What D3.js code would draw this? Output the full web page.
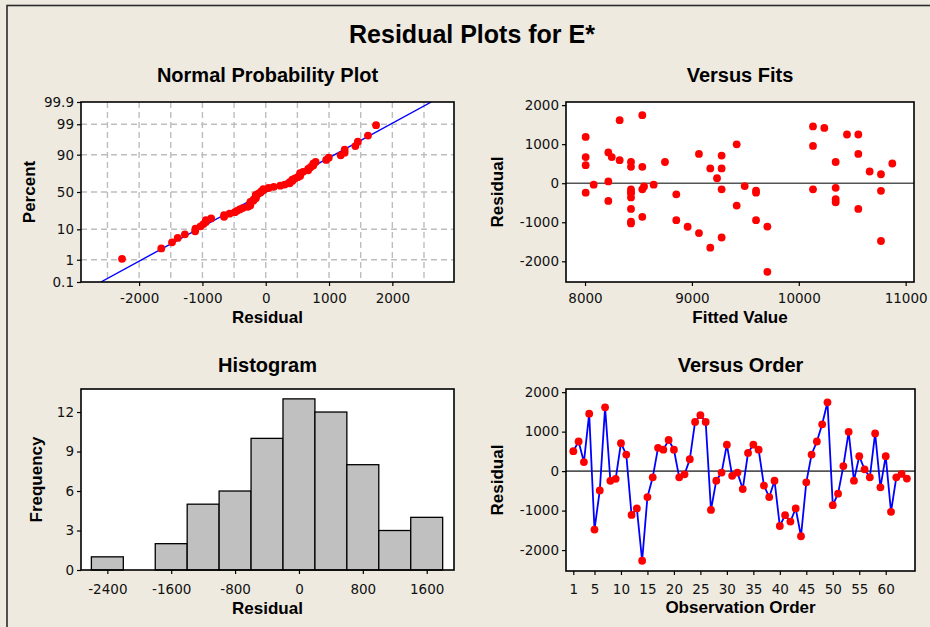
<!DOCTYPE html>
<html>
<head>
<meta charset="utf-8">
<script src="https://cdn.jsdelivr.net/npm/d3@7"></script>
<style>
  html, body { margin: 0; padding: 0; background: #EEEAE0; }
  svg { display: block; }
</style>
</head>
<body>
<svg id="chart" width="930" height="627"></svg>
<script>
// Residuals for E*, listed in observation order
const observationOrder = d3.range(1, 65);
const residuals = [
   505,   750,   230,  1455, -1480,  -488,  1615,  -246,  -195,   708,
   420, -1110,  -946, -2270,  -658,  -157,   590,   543,   788,   543,
  -157,   -81,   300,  1247,  1416,  1247,  -984,  -242,   -38,   670,
  -118,   -38,  -454,   462,   670,   543,  -365,  -658,  -242, -1390,
 -1115, -1277,  -946, -1650,  -285,   420,   750,  1185,  1743,  -862,
  -572,   127,   996,  -242,   378,    46,  -157,   955,  -411,   378,
 -1031,  -157,   -72,  -190
];
// Fitted values, same observation order
const fittedValues = [
 10875,  9066, 10769, 10133, 10769, 10345,  8324,  8430, 10769,  9278,
  8430,  9706,  8854,  9706,  8430,  8430,  8324,  8430,  8218,  8748,
  9278,  8552, 10663, 10451, 10239, 10557,  8430,  8006,  8642,  8006,
 10345,  8081,  8218,  8006,  8250, 10345,  8430, 10557,  9600,  9278,
  8960,  9066,  9600,  9172,  8854,  8536, 10557,  8006,  8536,  8536,
  9419,  9235,  9419,  8430,  9172,  8218, 10133, 10133, 10345,  9278,
  8430,  8536,  9494,  9600
];
// Histogram of the residuals (bin width 400)
const histBinCenters = [-2400, -2000, -1600, -1200, -800, -400, 0, 400, 800, 1200, 1600];
const histFrequencies = [1, 0, 2, 5, 6, 10, 13, 12, 8, 3, 4];

// Tick labels
const percentTicks = [0.1, 1, 10, 50, 90, 99, 99.9];
const percentGrid = [1, 10, 50, 90, 99];
const npResidualTicks = [-2000, -1000, 0, 1000, 2000];
const npResidualGrid = [-2500, -2000, -1500, -1000, -500, 0, 500, 1000, 1500, 2000, 2500];
const residualTicks = [-2000, -1000, 0, 1000, 2000];
const fittedTicks = [8000, 9000, 10000, 11000];
const histResidualTicks = [-2400, -1600, -800, 0, 800, 1600];
const frequencyTicks = [0, 3, 6, 9, 12];
const orderTicks = [1, 5, 10, 15, 20, 25, 30, 35, 40, 45, 50, 55, 60];

// Inverse standard normal CDF (Acklam's rational approximation)
function normInv(p) {
  const a = [-3.969683028665376e+01, 2.209460984245205e+02, -2.759285104469687e+02,
             1.383577518672690e+02, -3.066479806614716e+01, 2.506628277459239e+00];
  const b = [-5.447609879822406e+01, 1.615858368580409e+02, -1.556989798598866e+02,
             6.680131188771972e+01, -1.328068155288572e+01];
  const c = [-7.784894002430293e-03, -3.223964580411365e-01, -2.400758277161838e+00,
             -2.549732539343734e+00, 4.374664141464968e+00, 2.938163982698783e+00];
  const d = [7.784695709041462e-03, 3.224671290700398e-01, 2.445134137142996e+00,
             3.754408661907416e+00];
  const pl = 0.02425, ph = 1 - pl;
  let q, r;
  if (p < pl) {
    q = Math.sqrt(-2 * Math.log(p));
    return (((((c[0]*q+c[1])*q+c[2])*q+c[3])*q+c[4])*q+c[5]) / ((((d[0]*q+d[1])*q+d[2])*q+d[3])*q+1);
  } else if (p <= ph) {
    q = p - 0.5; r = q * q;
    return (((((a[0]*r+a[1])*r+a[2])*r+a[3])*r+a[4])*r+a[5])*q / (((((b[0]*r+b[1])*r+b[2])*r+b[3])*r+b[4])*r+1);
  } else {
    q = Math.sqrt(-2 * Math.log(1 - p));
    return -(((((c[0]*q+c[1])*q+c[2])*q+c[3])*q+c[4])*q+c[5]) / ((((d[0]*q+d[1])*q+d[2])*q+d[3])*q+1);
  }
}

const svg = d3.select("#chart");
const TICK_FONT = "'DejaVu Sans', sans-serif";
const BOLD_FONT = "'Liberation Sans', Arial, sans-serif";

// Outer frame
svg.append("rect").attr("x", 7).attr("y", 5.5).attr("width", 940).attr("height", 640)
  .attr("fill", "none").attr("stroke", "#2b2b2b").attr("stroke-width", 1.6);

svg.append("text").attr("x", 472).attr("y", 43).attr("text-anchor", "middle")
  .attr("font-family", BOLD_FONT).attr("font-weight", "bold").attr("font-size", 25)
  .attr("fill", "#000").text("Residual Plots for E*");

// Shared helpers
function panelBox(g, b) {
  g.append("rect").attr("x", b.x0).attr("y", b.y0).attr("width", b.x1 - b.x0).attr("height", b.y1 - b.y0)
    .attr("fill", "#fff");
}
function panelBorder(g, b) {
  g.append("rect").attr("x", b.x0).attr("y", b.y0).attr("width", b.x1 - b.x0).attr("height", b.y1 - b.y0)
    .attr("fill", "none").attr("stroke", "#000").attr("stroke-width", 1.6);
}
function styleAxis(sel) {
  sel.select(".domain").remove();
  sel.selectAll(".tick line").attr("stroke", "#000").attr("stroke-width", 1.2);
  sel.selectAll(".tick text").attr("font-family", TICK_FONT).attr("font-size", 13.5).attr("fill", "#111");
}
function xAxis(g, scale, ticks, b, labelBase, fmt) {
  const ax = g.append("g").attr("transform", `translate(0,${b.y1})`)
    .call(d3.axisBottom(scale).tickValues(ticks).tickSize(4).tickFormat(fmt || (d => d)));
  styleAxis(ax);
  ax.selectAll(".tick text").attr("dy", null).attr("y", labelBase - b.y1);
  return ax;
}
function yAxis(g, scale, ticks, b, fmt) {
  const ax = g.append("g").attr("transform", `translate(${b.x0},0)`)
    .call(d3.axisLeft(scale).tickValues(ticks).tickSize(4).tickPadding(3).tickFormat(fmt || (d => d)));
  styleAxis(ax);
  return ax;
}
function titles(g, b, title, titleBase, xLabel, xBase, yLabel, yBase) {
  const cx = (b.x0 + b.x1) / 2, cy = (b.y0 + b.y1) / 2;
  g.append("text").attr("x", cx).attr("y", titleBase).attr("text-anchor", "middle")
    .attr("font-family", BOLD_FONT).attr("font-weight", "bold").attr("font-size", 20).text(title);
  g.append("text").attr("x", cx).attr("y", xBase).attr("text-anchor", "middle")
    .attr("font-family", BOLD_FONT).attr("font-weight", "bold").attr("font-size", 17).text(xLabel);
  g.append("text").attr("transform", `translate(${yBase},${cy}) rotate(-90)`).attr("text-anchor", "middle")
    .attr("font-family", BOLD_FONT).attr("font-weight", "bold").attr("font-size", 17).text(yLabel);
}
function dots(g, data, xs, ys, xf, yf) {
  g.append("g").selectAll("circle").data(data).join("circle")
    .attr("cx", d => xs(xf(d))).attr("cy", d => ys(yf(d))).attr("r", 3.9).attr("fill", "#FF0000");
}
function clip(id, b) {
  svg.append("clipPath").attr("id", id).append("rect")
    .attr("x", b.x0).attr("y", b.y0).attr("width", b.x1 - b.x0).attr("height", b.y1 - b.y0);
}

// ---------- Normal Probability Plot ----------
{
  const b = { x0: 81, x1: 454, y0: 102, y1: 282 };
  const g = svg.append("g");
  clip("clipNP", b);
  panelBox(g, b);
  const x = d3.scaleLinear().domain([-2918, 2974]).range([b.x0, b.x1]);
  const y = d3.scaleLinear().domain([normInv(0.001), normInv(0.999)]).range([b.y1, b.y0]);
  const grid = g.append("g").attr("stroke", "#BDBDBD").attr("stroke-width", 1.4).attr("stroke-dasharray", "6,4");
  grid.selectAll("line.v").data(npResidualGrid).join("line").attr("class", "v")
    .attr("x1", d => x(d)).attr("x2", d => x(d)).attr("y1", b.y0).attr("y2", b.y1);
  grid.selectAll("line.h").data(percentGrid).join("line").attr("class", "h")
    .attr("x1", b.x0).attr("x2", b.x1).attr("y1", d => y(normInv(d / 100))).attr("y2", d => y(normInv(d / 100)));

  const n = residuals.length;
  const sorted = residuals.slice().sort((a, c) => a - c);
  const pts = sorted.map((r, i) => ({ r, z: normInv((i + 1 - 0.3) / (n + 0.4)) }));
  const mu = d3.mean(residuals), sd = d3.deviation(residuals);
  const zr = y.domain();
  g.append("path").attr("clip-path", "url(#clipNP)")
    .datum(zr.map(z => ({ r: mu + sd * z, z })))
    .attr("d", d3.line().x(d => x(d.r)).y(d => y(d.z)))
    .attr("fill", "none").attr("stroke", "#0000FF").attr("stroke-width", 1.4);
  dots(g, pts, x, y, d => d.r, d => d.z);
  panelBorder(g, b);
  xAxis(g, x, npResidualTicks, b, 302.5);
  yAxis(g, y, percentTicks.map(p => normInv(p / 100)), b, (d, i) => percentTicks[i]);
  titles(g, b, "Normal Probability Plot", 82, "Residual", 323, "Percent", 35);
}

// ---------- Versus Fits ----------
{
  const b = { x0: 566, x1: 914, y0: 102, y1: 282 };
  const g = svg.append("g");
  panelBox(g, b);
  const x = d3.scaleLinear().domain([7822, 11078]).range([b.x0, b.x1]);
  const y = d3.scaleLinear().domain([-2530, 2080]).range([b.y1, b.y0]);
  g.append("line").attr("x1", b.x0).attr("x2", b.x1).attr("y1", y(0)).attr("y2", y(0))
    .attr("stroke", "#555").attr("stroke-width", 1.6);
  dots(g, observationOrder, x, y, i => fittedValues[i - 1], i => residuals[i - 1]);
  panelBorder(g, b);
  xAxis(g, x, fittedTicks, b, 302.5);
  yAxis(g, y, residualTicks, b);
  titles(g, b, "Versus Fits", 82, "Fitted Value", 323, "Residual", 503);
}

// ---------- Histogram ----------
{
  const b = { x0: 81, x1: 454, y0: 389, y1: 570 };
  const g = svg.append("g");
  panelBox(g, b);
  const x = d3.scaleLinear().domain([-2730, 1942]).range([b.x0, b.x1]);
  const y = d3.scaleLinear().domain([0, 13.75]).range([b.y1, b.y0]);
  const half = 200;
  g.append("g").selectAll("rect").data(histBinCenters.map((c, i) => ({ c, f: histFrequencies[i] })).filter(d => d.f > 0))
    .join("rect")
    .attr("x", d => x(d.c - half)).attr("width", d => x(d.c + half) - x(d.c - half))
    .attr("y", d => y(d.f)).attr("height", d => y(0) - y(d.f))
    .attr("fill", "#C0C0C0").attr("stroke", "#000").attr("stroke-width", 1.3);
  panelBorder(g, b);
  xAxis(g, x, histResidualTicks, b, 594);
  yAxis(g, y, frequencyTicks, b);
  titles(g, b, "Histogram", 372, "Residual", 614, "Frequency", 42);
}

// ---------- Versus Order ----------
{
  const b = { x0: 566, x1: 915, y0: 389, y1: 571 };
  const g = svg.append("g");
  panelBox(g, b);
  const x = d3.scaleLinear().domain([-0.38, 65.53]).range([b.x0, b.x1]);
  const y = d3.scaleLinear().domain([-2530, 2080]).range([b.y1, b.y0]);
  g.append("line").attr("x1", b.x0).attr("x2", b.x1).attr("y1", y(0)).attr("y2", y(0))
    .attr("stroke", "#555").attr("stroke-width", 1.6);
  g.append("path").datum(observationOrder)
    .attr("d", d3.line().x(i => x(i)).y(i => y(residuals[i - 1])))
    .attr("fill", "none").attr("stroke", "#0000FF").attr("stroke-width", 1.8);
  dots(g, observationOrder, x, y, i => i, i => residuals[i - 1]);
  panelBorder(g, b);
  xAxis(g, x, orderTicks, b, 593.5);
  yAxis(g, y, residualTicks, b);
  titles(g, b, "Versus Order", 372, "Observation Order", 613, "Residual", 503);
}
</script>
</body>
</html>
